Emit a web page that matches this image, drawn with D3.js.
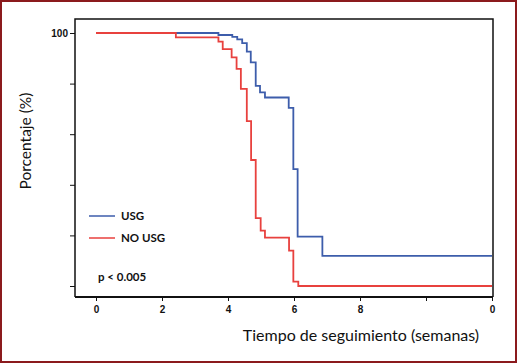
<!DOCTYPE html>
<html lang="es">
<head>
<meta charset="utf-8">
<title>Curvas de supervivencia</title>
<script src="https://d3js.org/d3.v7.min.js"></script>
<style>
  html, body { margin: 0; padding: 0; background: #fff; }
  svg { display: block; font-family: Lato, "Open Sans", sans-serif; }
  .tick text { font-weight: bold; font-size: 10px; fill: #111; }
  .tick line, .domain { stroke: #111; }
</style>
</head>
<body>
<svg id="chart" width="517" height="363"></svg>
<script>
// tiempos (semanas) y porcentaje después de cada paso
const usgTimes = [0, 3.71, 4.13, 4.28, 4.43, 4.57, 4.69, 4.84, 4.97, 5.12, 5.84, 5.98, 6.11, 6.86, 12];
const usgPct   = [100, 99.2, 98.5, 97.5, 96.0, 92.6, 88.4, 79.1, 76.5, 74.5, 70.4, 46.2, 19.5, 11.9, 11.9];
const noUsgTimes = [0, 2.42, 3.71, 3.84, 4.11, 4.26, 4.39, 4.57, 4.70, 4.84, 4.99, 5.12, 5.85, 5.98, 6.13, 12];
const noUsgPct   = [100, 98.3, 96.6, 93.6, 90.4, 85.8, 77.9, 65.2, 49.8, 26.8, 21.9, 19.1, 14.0, 1.7, 0, 0];

const xTicks = [0, 2, 4, 6, 8, 10, 12];
const xTickLabels = ["0", "2", "4", "6", "8", "", "0"];
const yTicks = [0, 20, 40, 60, 80, 100];
const yTickLabels = ["", "", "", "", "", "100"];

const series = [
  {name: "USG", times: usgTimes, pct: usgPct, color: "#3d5dab"},
  {name: "NO USG", times: noUsgTimes, pct: noUsgPct, color: "#e8413e"}
];

const svg = d3.select("#chart");

// marco exterior
svg.append("rect")
  .attr("x", 1).attr("y", 1)
  .attr("width", 515).attr("height", 361)
  .attr("fill", "none")
  .attr("stroke", "#8b1a1d")
  .attr("stroke-width", 2);

const box = {left: 75, right: 493, top: 19, bottom: 297};

const x = d3.scaleLinear().domain([0, 12]).range([96, 492]);
const y = d3.scaleLinear().domain([0, 100]).range([286, 33]);

// caja del gráfico (arriba, izquierda, derecha)
svg.append("path")
  .attr("d", `M${box.left},${box.bottom}V${box.top}H${box.right}V${box.bottom}`)
  .attr("fill", "none")
  .attr("stroke", "#111")
  .attr("stroke-width", 1.5);

const xAxis = d3.axisBottom(x)
  .tickValues(xTicks)
  .tickSize(4)
  .tickPadding(5)
  .tickFormat((d, i) => xTickLabels[i]);

const gx = svg.append("g")
  .attr("transform", `translate(0,${box.bottom})`)
  .call(xAxis);
gx.select(".domain").attr("d", `M${box.left},0H${box.right}`).attr("stroke-width", 2);

const yAxis = d3.axisLeft(y)
  .tickValues(yTicks)
  .tickSize(5)
  .tickPadding(2)
  .tickFormat((d, i) => yTickLabels[i]);

const gy = svg.append("g")
  .attr("transform", `translate(${box.left},0)`)
  .call(yAxis);
gy.select(".domain").remove();

// curvas escalonadas
const line = d3.line()
  .x(d => x(d[0]))
  .y(d => y(d[1]))
  .curve(d3.curveStepAfter);

series.forEach(s => {
  svg.append("path")
    .datum(s.times.map((t, i) => [t, s.pct[i]]))
    .attr("d", line)
    .attr("fill", "none")
    .attr("stroke", s.color)
    .attr("stroke-width", 1.8);
});

// leyenda
series.forEach((s, i) => {
  const ly = 216 + i * 22;
  svg.append("line")
    .attr("x1", 89).attr("x2", 115)
    .attr("y1", ly).attr("y2", ly)
    .attr("stroke", s.color)
    .attr("stroke-width", 1.5);
  svg.append("text")
    .attr("x", 121).attr("y", ly + 4)
    .attr("font-size", 11.5)
    .attr("font-weight", "bold")
    .attr("fill", "#111")
    .text(s.name);
});

svg.append("text")
  .attr("x", 98).attr("y", 281)
  .attr("font-size", 11.5)
  .attr("font-weight", "bold")
  .attr("fill", "#111")
  .text("p < 0.005");

// títulos de ejes
svg.append("text")
  .attr("x", 361).attr("y", 341)
  .attr("text-anchor", "middle")
  .attr("font-size", 16)
  .attr("fill", "#111")
  .text("Tiempo de seguimiento (semanas)");

svg.append("text")
  .attr("transform", "translate(31,141) rotate(-90)")
  .attr("text-anchor", "middle")
  .attr("font-size", 15.5)
  .attr("fill", "#111")
  .text("Porcentaje (%)");
</script>
</body>
</html>
